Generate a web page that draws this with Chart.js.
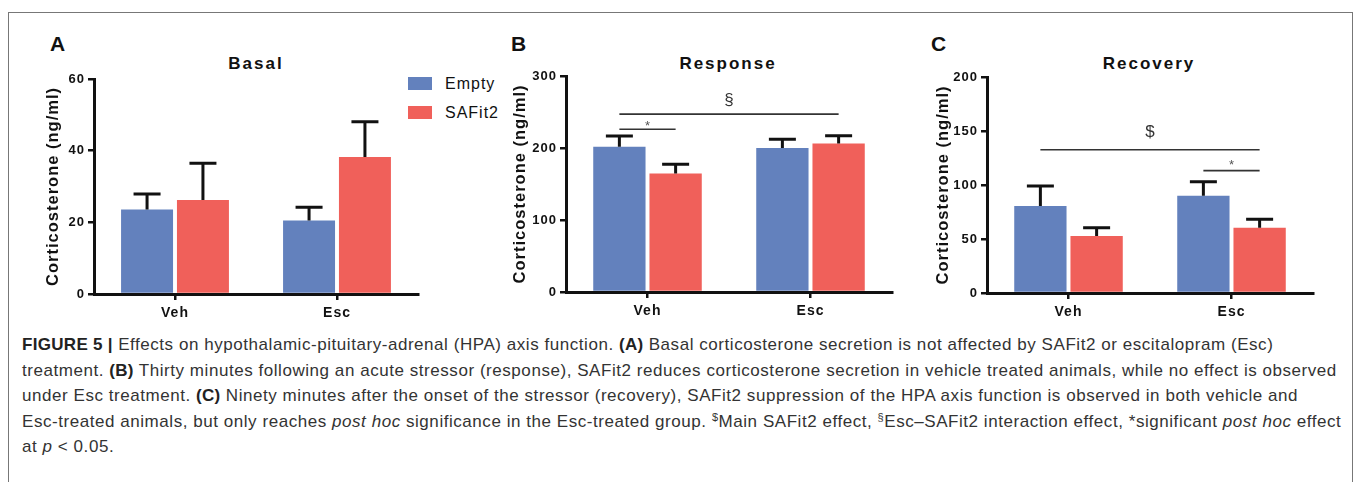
<!DOCTYPE html>
<html>
<head>
<meta charset="utf-8">
<script src="https://cdn.jsdelivr.net/npm/chart.js@4.4.1/dist/chart.umd.min.js"></script>
<style>
  body { margin: 0; background: #fff; width: 1354px; height: 482px; overflow: hidden; position: relative; font-family: "Liberation Sans", Arial, sans-serif; }
  #frame { position: absolute; left: 8px; top: 12px; width: 1345px; height: 500px; border: 1.5px solid #777; box-sizing: border-box; }
  canvas { position: absolute; }
  .letter { position: absolute; font-weight: bold; font-size: 21px; color: #111; }
  .ptitle { position: absolute; font-weight: bold; font-size: 17px; letter-spacing: 2px; color: #111; transform: translateX(-50%); white-space: nowrap; }
  .leg { position: absolute; font-size: 16px; letter-spacing: 1px; color: #111; }
  .sw { position: absolute; width: 24px; height: 13px; }
  #caption { position: absolute; left: 22px; top: 332px; font-size: 17px; letter-spacing: 0.55px; color: #333; line-height: 25.5px; white-space: nowrap; }
  #caption b { color: #222; letter-spacing: 0.3px; }
  #caption sup { font-size: 11px; line-height: 0; vertical-align: 6px; }
</style>
</head>
<body>
<div id="frame"></div>

<div class="letter" style="left:50px;top:32px">A</div>
<div class="letter" style="left:511px;top:32px">B</div>
<div class="letter" style="left:931px;top:32px">C</div>

<div class="ptitle" style="left:256px;top:54px">Basal</div>
<div class="ptitle" style="left:728px;top:54px">Response</div>
<div class="ptitle" style="left:1149px;top:54px">Recovery</div>

<div class="sw" style="left:408px;top:77px;background:#6381BD"></div>
<div class="leg" style="left:445px;top:75px">Empty</div>
<div class="sw" style="left:408px;top:106px;background:#F0605A"></div>
<div class="leg" style="left:445px;top:104px">SAFit2</div>

<canvas id="chartA" width="412" height="300" style="left:28px;top:20px"></canvas>
<canvas id="chartB" width="412" height="300" style="left:500px;top:20px"></canvas>
<canvas id="chartC" width="412" height="300" style="left:920px;top:20px"></canvas>

<div id="caption">
<div><b>FIGURE 5 |</b> Effects on hypothalamic-pituitary-adrenal (HPA) axis function. <b>(A)</b> Basal corticosterone secretion is not affected by SAFit2 or escitalopram (Esc)</div>
<div>treatment. <b>(B)</b> Thirty minutes following an acute stressor (response), SAFit2 reduces corticosterone secretion in vehicle treated animals, while no effect is observed</div>
<div>under Esc treatment. <b>(C)</b> Ninety minutes after the onset of the stressor (recovery), SAFit2 suppression of the HPA axis function is observed in both vehicle and</div>
<div>Esc-treated animals, but only reaches <i>post hoc</i> significance in the Esc-treated group. <sup>$</sup>Main SAFit2 effect, <sup>§</sup>Esc–SAFit2 interaction effect, *significant <i>post hoc</i> effect</div>
<div>at <i>p</i> &lt; 0.05.</div>
</div>

<script>
const groups = ["Veh", "Esc"];
const seriesNames = ["Empty", "SAFit2"];
const seriesColors = ["#6381BD", "#F0605A"];

// Basal
const basalEmpty = [23.6, 20.5];
const basalEmptyErr = [4.3, 3.7];
const basalSafit = [26.2, 38.2];
const basalSafitErr = [10.3, 9.9];
const basalTicks = [0, 20, 40, 60];

// Response
const respEmpty = [201.7, 199.9];
const respEmptyErr = [14.8, 12.1];
const respSafit = [164.7, 206.4];
const respSafitErr = [12.9, 10.6];
const respTicks = [0, 100, 200, 300];

// Recovery
const recEmpty = [80.5, 90.1];
const recEmptyErr = [18.6, 13.0];
const recSafit = [52.7, 60.4];
const recSafitErr = [7.7, 7.8];
const recTicks = [0, 50, 100, 150, 200];

// significance bars: [dataset, group] -> [dataset, group], at value y
const respSig = [
    { from: [0, 0], to: [1, 1], y: 247, label: "§", labelY: 266 },
    { from: [0, 0], to: [1, 0], y: 226, label: "*", labelY: 234 },
];
const recSig = [
    { from: [0, 0], to: [1, 1], y: 132.6, label: "$", labelY: 149 },
    { from: [0, 1], to: [1, 1], y: 113.3, label: "*", labelY: 120.5 },
];

const errorBars = {
    id: "errorBars",
    afterDatasetsDraw(chart) {
        const ctx = chart.ctx;
        const yScale = chart.scales.y;
        ctx.save();
        ctx.strokeStyle = "#111";
        ctx.lineWidth = 3;
        chart.data.datasets.forEach((ds, i) => {
            chart.getDatasetMeta(i).data.forEach((bar, j) => {
                const top = yScale.getPixelForValue(ds.data[j] + ds.errors[j]);
                ctx.beginPath();
                ctx.moveTo(bar.x, bar.y);
                ctx.lineTo(bar.x, top);
                ctx.moveTo(bar.x - 13.5, top);
                ctx.lineTo(bar.x + 13.5, top);
                ctx.stroke();
            });
        });
        ctx.restore();
    }
};

const sigBars = {
    id: "sigBars",
    afterDatasetsDraw(chart, args, opts) {
        const list = opts.items || [];
        const ctx = chart.ctx;
        const yScale = chart.scales.y;
        ctx.save();
        ctx.letterSpacing = "0px";
        list.forEach(s => {
            const x1 = chart.getDatasetMeta(s.from[0]).data[s.from[1]].x;
            const x2 = chart.getDatasetMeta(s.to[0]).data[s.to[1]].x;
            const y = yScale.getPixelForValue(s.y);
            ctx.strokeStyle = "#333";
            ctx.lineWidth = 1.6;
            ctx.beginPath();
            ctx.moveTo(x1, y);
            ctx.lineTo(x2, y);
            ctx.stroke();
            const star = s.label === "*";
            ctx.fillStyle = star ? "#555" : "#333";
            ctx.font = star ? "13px 'Liberation Sans'" : "17px 'Liberation Sans'";
            ctx.textAlign = "center";
            ctx.textBaseline = "middle";
            ctx.fillText(s.label, (x1 + x2) / 2, yScale.getPixelForValue(s.labelY) + (star ? 3 : 0));
        });
        ctx.restore();
    }
};

// the axis text in the figure is a bit spaced out
const spacing = {
    id: "spacing",
    beforeDraw(chart) {
        chart.ctx.letterSpacing = "1px";
    }
};

function makeChart(id, empty, emptyErr, safit, safitErr, ticks, sig, lay) {
    const ctx = document.getElementById(id).getContext("2d");
    return new Chart(ctx, {
        type: "bar",
        data: {
            labels: groups,
            datasets: [{
                label: seriesNames[0],
                data: empty,
                errors: emptyErr,
                backgroundColor: seriesColors[0],
                barPercentage: 0.93,
                categoryPercentage: 0.69,
            }, {
                label: seriesNames[1],
                data: safit,
                errors: safitErr,
                backgroundColor: seriesColors[1],
                barPercentage: 0.93,
                categoryPercentage: 0.69,
            }],
        },
        options: {
            responsive: false,
            animation: false,
            devicePixelRatio: 1,
            layout: { padding: { left: 0, right: lay.right, top: lay.top, bottom: 0 } },
            plugins: {
                legend: { display: false },
                tooltip: { enabled: false },
                sigBars: { items: sig },
            },
            scales: {
                x: {
                    afterFit: s => { s.height = lay.xh; },
                    grid: { offset: false, drawOnChartArea: false, drawTicks: true, tickLength: 6, lineWidth: 2.5, color: "#111" },
                    border: { display: true, color: "#111", width: 3 },
                    ticks: { color: "#111", padding: 5, font: { family: "Liberation Sans", size: 14, weight: "bold" } },
                },
                y: {
                    min: ticks[0],
                    max: ticks[ticks.length - 1],
                    afterFit: s => { s.width = lay.yw; },
                    afterBuildTicks: s => { s.ticks = ticks.map(v => ({ value: v })); },
                    grid: { drawOnChartArea: false, drawTicks: true, tickLength: 6, lineWidth: 2.5, color: "#111" },
                    border: { display: true, color: "#111", width: 3 },
                    ticks: { color: "#111", padding: 3, font: { family: "Liberation Sans", size: 13, weight: "bold" } },
                    title: {
                        display: true,
                        text: "Corticosterone (ng/ml)",
                        color: "#111",
                        padding: { top: lay.tp, bottom: 0 },
                        font: { family: "Liberation Sans", size: 16.5, weight: "bold" },
                    },
                },
            },
        },
        plugins: [spacing, errorBars, sigBars],
    });
}

makeChart("chartA", basalEmpty, basalEmptyErr, basalSafit, basalSafitErr, basalTicks, [],
    { right: 22, top: 59, xh: 26, yw: 66, tp: 16 });
makeChart("chartB", respEmpty, respEmptyErr, respSafit, respSafitErr, respTicks, respSig,
    { right: 20, top: 56, xh: 28, yw: 66, tp: 11 });
makeChart("chartC", recEmpty, recEmptyErr, recSafit, recSafitErr, recTicks, recSig,
    { right: 19, top: 57, xh: 27, yw: 67, tp: 14 });
</script>
</body>
</html>
